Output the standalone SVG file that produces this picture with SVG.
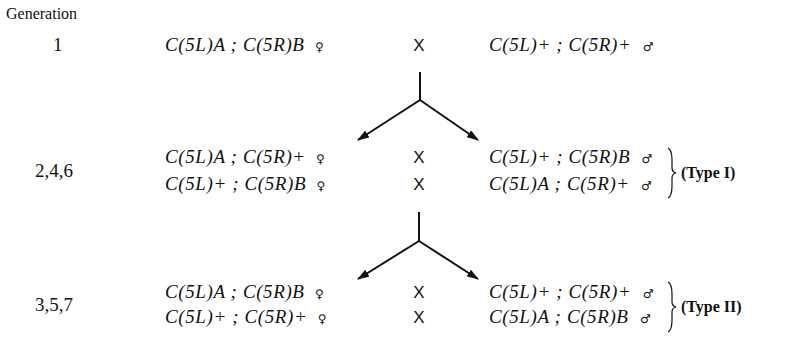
<svg xmlns="http://www.w3.org/2000/svg" width="800" height="349" viewBox="0 0 800 349">
  <style>
    text { fill: #111; }
    .lbl { font-family: "Liberation Serif", serif; font-size: 16px; }
    .num { font-family: "Liberation Serif", serif; font-size: 19px; }
    .geno { font-family: "Liberation Serif", serif; font-size: 19px; font-style: italic; letter-spacing: 0.6px; }
    .sex { font-family: "DejaVu Sans", sans-serif; font-size: 12px; font-style: normal; font-weight: bold; letter-spacing: 0; }
    .cross { font-family: "Liberation Sans", sans-serif; font-size: 17px; text-anchor: middle; }
    .type { font-family: "Liberation Serif", serif; font-size: 16px; font-weight: bold; }
    .conn { fill: none; stroke: #111; stroke-width: 2; }
    .brace { fill: none; stroke: #111; stroke-width: 1.2; }
  </style>
  <defs>
    <marker id="arrow" viewBox="0 0 12 8" refX="11" refY="4" markerWidth="6" markerHeight="4" orient="auto" markerUnits="strokeWidth">
      <path d="M0,0 L12,4 L0,8 z" fill="#111"/>
    </marker>
  </defs>

  <text class="lbl" x="6" y="19">Generation</text>

  <!-- generation 1 -->
  <g id="gen1">
    <text class="num" x="53" y="51">1</text>
    <text class="geno" x="165" y="51">C(5L)A ; C(5R)B <tspan class="sex" dx="5">♀</tspan></text>
    <text class="cross" x="419" y="51">X</text>
    <text class="geno" x="489" y="51">C(5L)+ ; C(5R)+ <tspan class="sex" dx="6">♂</tspan></text>
  </g>

  <!-- generations 2,4,6 -->
  <g id="gen246">
    <text class="num" x="35" y="177">2,4,6</text>
    <text class="geno" x="165" y="163">C(5L)A ; C(5R)+ <tspan class="sex" dx="5">♀</tspan></text>
    <text class="cross" x="419" y="163">X</text>
    <text class="geno" x="489" y="163">C(5L)+ ; C(5R)B <tspan class="sex" dx="6">♂</tspan></text>
    <text class="geno" x="165" y="190">C(5L)+ ; C(5R)B <tspan class="sex" dx="5">♀</tspan></text>
    <text class="cross" x="419" y="190">X</text>
    <text class="geno" x="489" y="190">C(5L)A ; C(5R)+ <tspan class="sex" dx="6">♂</tspan></text>
  </g>
  <g id="type1">
    <path class="brace" d="M668,148 Q672,150 672,160 L672,168 Q672,172 676,173 Q672,174 672,178 L672,186 Q672,196 668,198"/>
    <text class="type" x="681" y="178">(Type I)</text>
  </g>

  <!-- generations 3,5,7 -->
  <g id="gen357">
    <text class="num" x="35" y="311">3,5,7</text>
    <text class="geno" x="165" y="298">C(5L)A ; C(5R)B <tspan class="sex" dx="5">♀</tspan></text>
    <text class="cross" x="419" y="298">X</text>
    <text class="geno" x="489" y="298">C(5L)+ ; C(5R)+ <tspan class="sex" dx="6">♂</tspan></text>
    <text class="geno" x="165" y="323">C(5L)+ ; C(5R)+ <tspan class="sex" dx="5">♀</tspan></text>
    <text class="cross" x="419" y="323">X</text>
    <text class="geno" x="489" y="323">C(5L)A ; C(5R)B <tspan class="sex" dx="6">♂</tspan></text>
  </g>
  <g id="type2">
    <path class="brace" d="M668,282 Q672,284 672,294 L672,302 Q672,306 676,307 Q672,308 672,312 L672,320 Q672,330 668,332"/>
    <text class="type" x="681" y="312">(Type II)</text>
  </g>

  <!-- connectors -->
  <g id="connectors">
    <path class="conn" d="M420,72 L420,100"/>
    <path class="conn" d="M420,100 L358,140" marker-end="url(#arrow)"/>
    <path class="conn" d="M420,100 L478,140" marker-end="url(#arrow)"/>
    <path class="conn" d="M419,212 L419,241"/>
    <path class="conn" d="M419,241 L358,279" marker-end="url(#arrow)"/>
    <path class="conn" d="M419,241 L478,279" marker-end="url(#arrow)"/>
  </g>
</svg>
